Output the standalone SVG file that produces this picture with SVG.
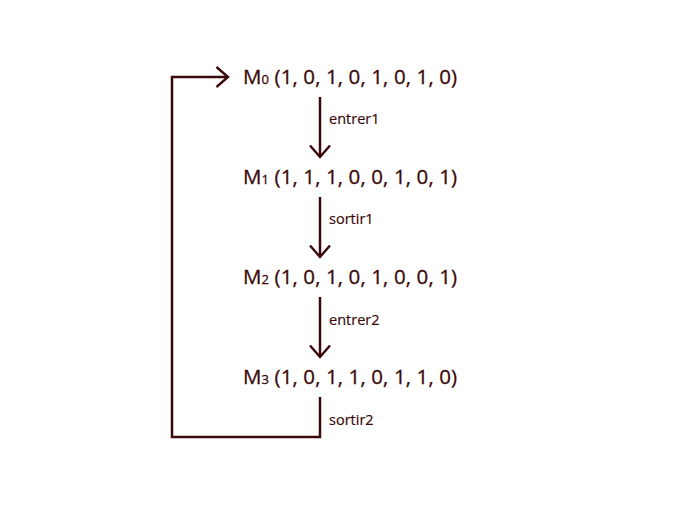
<svg xmlns="http://www.w3.org/2000/svg" width="694" height="512" viewBox="0 0 694 512">
<style>
.m{font-family:"Open Sans","Liberation Sans",sans-serif;font-size:20.5px;fill:#3a0a0a;letter-spacing:0.1px;stroke:#3a0a0a;stroke-width:0.3}
.s{font-size:13px}
.l{font-family:"Open Sans","Liberation Sans",sans-serif;font-size:14.5px;fill:#3a0a0a;stroke:#3a0a0a;stroke-width:0.2}
.c{stroke:#3a0a0a;stroke-width:2.5;fill:none}
</style>
<defs>
<marker id="a" viewBox="0 0 14 22" refX="12.5" refY="11" markerWidth="14" markerHeight="22" markerUnits="userSpaceOnUse" orient="auto">
<path d="M1,1 L12.5,11 L1,21" fill="none" stroke="#3a0a0a" stroke-width="2.4"/>
</marker>
</defs>
<rect width="694" height="512" fill="#fff"/>
<g id="connectors">
<line class="c" x1="320" y1="97" x2="320" y2="157" marker-end="url(#a)"/>
<line class="c" x1="320" y1="197" x2="320" y2="257" marker-end="url(#a)"/>
<line class="c" x1="320" y1="297" x2="320" y2="357" marker-end="url(#a)"/>
<polyline class="c" points="320,397 320,437 172,437 172,77 228,77" marker-end="url(#a)"/>
<text class="l" x="329" y="124">entrer1</text>
<text class="l" x="329" y="224">sortir1</text>
<text class="l" x="329" y="325">entrer2</text>
<text class="l" x="329" y="425">sortir2</text>
</g>
<g id="M0"><text class="m" x="243" y="84">M<tspan class="s">0</tspan> (1, 0, 1, 0, 1, 0, 1, 0)</text></g>
<g id="M1"><text class="m" x="243" y="184">M<tspan class="s">1</tspan> (1, 1, 1, 0, 0, 1, 0, 1)</text></g>
<g id="M2"><text class="m" x="243" y="284">M<tspan class="s">2</tspan> (1, 0, 1, 0, 1, 0, 0, 1)</text></g>
<g id="M3"><text class="m" x="243" y="384">M<tspan class="s">3</tspan> (1, 0, 1, 1, 0, 1, 1, 0)</text></g>
</svg>
